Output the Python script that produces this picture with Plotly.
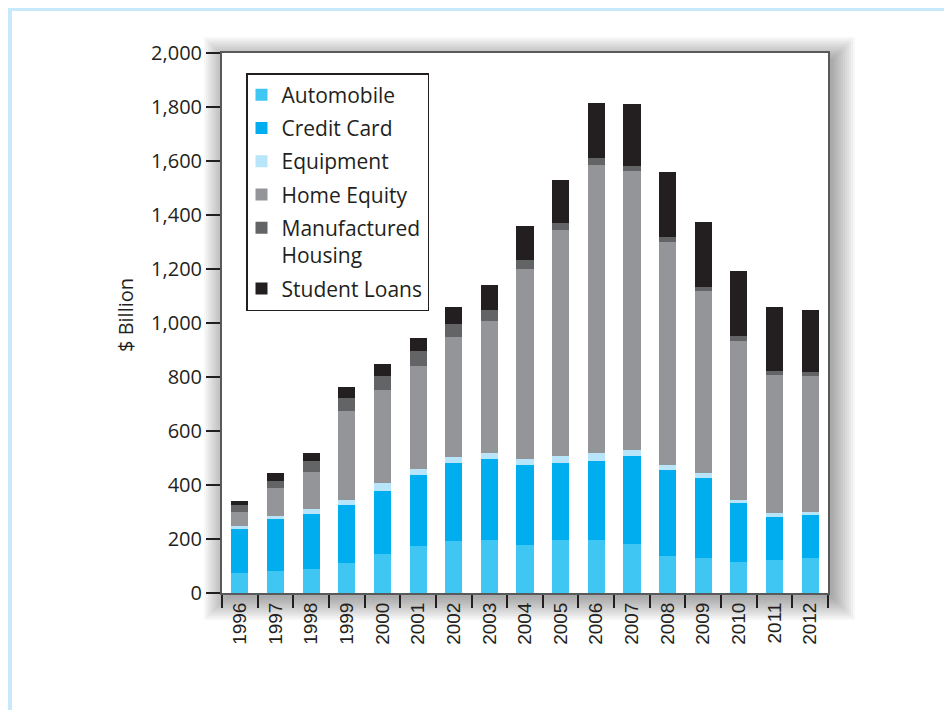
import plotly.graph_objects as go

years = [str(y) for y in range(1996, 2013)]
automobile = [75, 81, 89, 111, 144, 174, 193, 196, 178, 196, 196, 181, 137, 130, 115, 122, 130]
credit_card = [162, 193, 203, 215, 234, 263, 288, 300, 296, 285, 293, 326, 319, 296, 218, 159, 159]
equipment = [12, 11, 19, 18, 29, 22, 22, 22, 22, 26, 29, 23, 18, 18, 11, 15, 11]
home_equity = [51, 104, 137, 330, 345, 382, 445, 489, 704, 837, 1067, 1033, 826, 674, 589, 511, 504]
manufactured_housing = [26, 26, 41, 48, 52, 55, 48, 41, 33, 26, 26, 18, 19, 15, 19, 15, 15]
student_loans = [15, 29, 29, 41, 44, 48, 63, 93, 126, 160, 204, 230, 240, 241, 241, 237, 229]

series = [
    ("Automobile", automobile, "#40c6f2"),
    ("Credit Card", credit_card, "#00aeef"),
    ("Equipment", equipment, "#b9e5fa"),
    ("Home Equity", home_equity, "#939598"),
    ("Manufactured<br>Housing", manufactured_housing, "#636466"),
    ("Student Loans", student_loans, "#231f20"),
]

fig = go.Figure()
for i, (name, vals, col) in enumerate(series):
    fig.add_trace(go.Bar(x=years, y=vals, name=name, marker=dict(color=col, line=dict(width=0)),
                         legendgroup=f"g{i}"))

OFF = 8  # page body margin
W, H = 952 - OFF, 710 - OFF
L, R, T, B = 222 - OFF, 828 - OFF, 53 - OFF, 593 - OFF
pw, ph = R - L, B - T

def px_x(px):
    return (px - OFF - L) / pw

def px_y(py):
    return (B - (py - OFF)) / ph

shapes = []
# drop shadow
n = 12
for i in range(n):
    d = 2 * i
    shapes.append(dict(type="rect", xref="paper", yref="paper", layer="below",
                       x0=px_x(222 + 4 - d), x1=px_x(828 + 5 + d),
                       y0=px_y(593 + 5 + d), y1=px_y(53 + 6 - d),
                       fillcolor="rgba(0,0,0,0.033)", line=dict(width=0)))
# white plot area over shadow
shapes.append(dict(type="rect", xref="paper", yref="paper", layer="below",
                   x0=0, x1=1, y0=0, y1=1, fillcolor="white", line=dict(width=0)))
# light blue page border
shapes.append(dict(type="rect", xref="paper", yref="paper", layer="below",
                   x0=px_x(7), x1=px_x(12), y0=px_y(720), y1=px_y(6),
                   fillcolor="#c7e9f9", line=dict(width=0)))
shapes.append(dict(type="rect", xref="paper", yref="paper", layer="below",
                   x0=px_x(7), x1=px_x(960), y0=px_y(11), y1=px_y(6),
                   fillcolor="#c7e9f9", line=dict(width=0)))

fig.update_layout(
    width=W, height=H,
    margin=dict(l=L, r=W - R, t=T, b=H - B, autoexpand=False),
    paper_bgcolor="white", plot_bgcolor="rgba(0,0,0,0)",
    barmode="stack", bargap=0.52,
    font=dict(family="Open Sans", color="#231f20"),
    shapes=shapes,
    legend=dict(x=px_x(246), y=px_y(73), xanchor="left", yanchor="top",
                bgcolor="white", bordercolor="#231f20", borderwidth=1.5,
                font=dict(family="Open Sans", size=21, color="#231f20"),
                traceorder="grouped", tracegroupgap=3, valign="top", indentation=-6),
    annotations=[dict(text="$ Billion", xref="paper", yref="paper",
                      x=px_x(125), y=px_y(315), xanchor="center", yanchor="middle",
                      textangle=-90, showarrow=False,
                      font=dict(family="Open Sans", size=20, color="#231f20"))],
)
fig.update_yaxes(range=[0, 2000], dtick=200, tickformat=",", showgrid=False, zeroline=False,
                 showline=True, linecolor="#58595b", linewidth=2, mirror=True,
                 ticks="outside", ticklen=14, tickwidth=2, tickcolor="#231f20",
                 tickfont=dict(family="Open Sans", size=20, color="#231f20"))
fig.update_xaxes(type="category", showgrid=False, showline=True, linecolor="#58595b", linewidth=2,
                 mirror=True, ticks="outside", ticklen=13, tickwidth=2, tickcolor="#231f20",
                 tickson="boundaries", tickangle=-90,
                 tickfont=dict(family="Liberation Sans", size=19, color="#231f20"))

fig.write_html("out.html")
